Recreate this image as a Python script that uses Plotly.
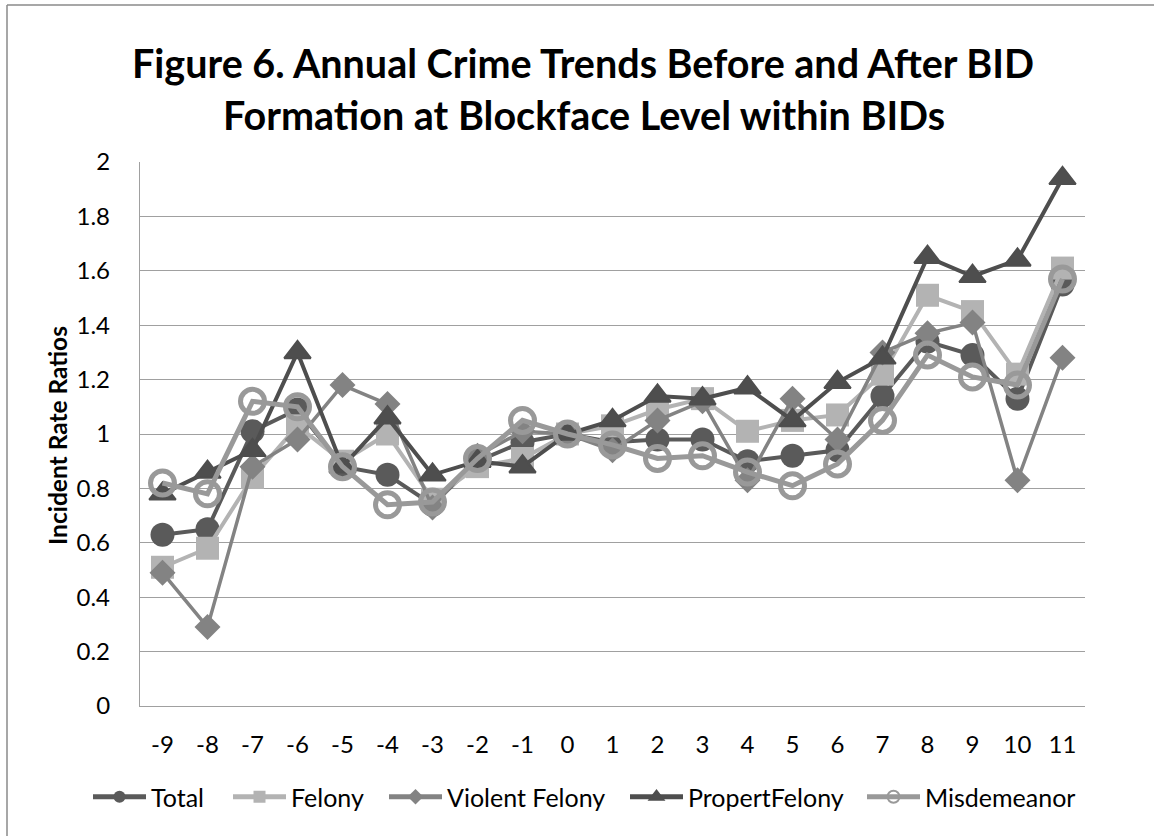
import plotly.graph_objects as go

# Years relative to BID formation
years = list(range(-9, 12))

# Incident rate ratios per crime category
total = [0.63, 0.65, 1.01, 1.09, 0.88, 0.85, 0.74, 0.90, 0.97, 1.00, 0.97,
         0.98, 0.98, 0.90, 0.92, 0.94, 1.14, 1.34, 1.29, 1.13, 1.55]
felony = [0.51, 0.58, 0.84, 1.03, 0.90, 1.00, 0.76, 0.88, 0.91, 1.00, 1.03,
          1.09, 1.13, 1.01, 1.05, 1.07, 1.22, 1.51, 1.45, 1.22, 1.61]
violent_felony = [0.49, 0.29, 0.88, 0.98, 1.18, 1.11, 0.73, 0.92, 1.01, 1.00, 0.94,
                  1.05, 1.12, 0.83, 1.13, 0.98, 1.30, 1.37, 1.41, 0.83, 1.28]
propert_felony = [0.78, 0.86, 0.94, 1.30, 0.88, 1.06, 0.85, 0.90, 0.88, 1.00, 1.05,
                  1.14, 1.13, 1.17, 1.05, 1.19, 1.28, 1.65, 1.58, 1.64, 1.94]
misdemeanor = [0.82, 0.78, 1.12, 1.10, 0.88, 0.74, 0.75, 0.91, 1.05, 1.00, 0.96,
               0.91, 0.92, 0.86, 0.81, 0.89, 1.05, 1.29, 1.21, 1.18, 1.57]

y_ticks = [0, 0.2, 0.4, 0.6, 0.8, 1, 1.2, 1.4, 1.6, 1.8, 2]
y_tick_text = ["0", "0.2", "0.4", "0.6", "0.8", "1", "1.2", "1.4", "1.6", "1.8", "2"]

W, H = 1154, 836
L, R, T, B = 140, 69, 162, 130
PW, PH = W - L - R, H - T - B


def px_x(x):
    return (x - L) / PW


def px_y(y):
    return (H - B - y) / PH


FONT = "Lato"

fig = go.Figure()

# name, values, marker, line colour, line width, legend id, legend left edge (px)
series = [
    ("Total", total, dict(symbol="circle", size=24, color="#5a5a5a"),
     "#5a5a5a", 4, "legend", 88),
    ("Felony", felony, dict(symbol="square", size=23, color="#b3b3b3"),
     "#b3b3b3", 4, "legend2", 228),
    ("Violent Felony", violent_felony, dict(symbol="diamond", size=20, color="#838383"),
     "#838383", 3.5, "legend3", 384),
    ("PropertFelony", propert_felony,
     dict(symbol="triangle-up", size=23, color="#4e4e4e", line=dict(color="#4e4e4e", width=2)),
     "#4e4e4e", 4, "legend4", 625),
    ("Misdemeanor", misdemeanor,
     dict(symbol="circle-open", size=24, color="#999999", line=dict(color="#999999", width=5)),
     "#999999", 5, "legend5", 862),
]

legend_layouts = {}
for name, vals, marker, lcolor, lw, leg, left in series:
    fig.add_trace(go.Scatter(
        x=years, y=vals, name=name, mode="lines+markers",
        line=dict(color=lcolor, width=lw),
        marker=marker, legend=leg,
    ))
    legend_layouts[leg] = dict(
        orientation="h", x=px_x(left), xanchor="left",
        y=px_y(797), yanchor="middle",
        font=dict(family=FONT, size=25, color="black"),
        itemwidth=53, itemsizing="constant",
        bgcolor="rgba(0,0,0,0)",
    )

fig.update_layout(
    width=W, height=H,
    margin=dict(l=L, r=R, t=T, b=B, autoexpand=False),
    paper_bgcolor="white", plot_bgcolor="white",
    font=dict(family=FONT, size=24, color="black"),
    showlegend=True,
    xaxis=dict(
        range=[-9.5, 11.5], tickmode="array", tickvals=years,
        ticktext=[str(v) for v in years],
        showgrid=False, zeroline=False,
        showline=True, linecolor="#a0a0a0", linewidth=1.3,
        ticks="", ticklabelstandoff=17,
        tickfont=dict(family=FONT, size=24, color="black"),
        fixedrange=True,
    ),
    yaxis=dict(
        range=[0, 2], tickmode="array", tickvals=y_ticks, ticktext=y_tick_text,
        showgrid=True, gridcolor="#a0a0a0", gridwidth=1.3,
        zeroline=False, showline=True, linecolor="#a0a0a0", linewidth=1.3,
        ticks="", ticklabelstandoff=24,
        tickfont=dict(family=FONT, size=24, color="black"),
        fixedrange=True,
    ),
    annotations=[
        dict(text="<b>Figure 6. Annual Crime Trends Before and After BID</b>",
             xref="paper", yref="paper", x=px_x(583), y=px_y(62),
             xanchor="center", yanchor="middle", showarrow=False,
             font=dict(family=FONT, size=39.5, color="black")),
        dict(text="<b>Formation at Blockface Level within BIDs</b>",
             xref="paper", yref="paper", x=px_x(584), y=px_y(115),
             xanchor="center", yanchor="middle", showarrow=False,
             font=dict(family=FONT, size=39.5, color="black")),
        dict(text="<b>Incident Rate Ratios</b>",
             xref="paper", yref="paper", x=px_x(57), y=px_y(436),
             xanchor="center", yanchor="middle", textangle=-90, showarrow=False,
             font=dict(family=FONT, size=24.5, color="black")),
    ],
    shapes=[
        dict(type="line", xref="paper", yref="paper",
             x0=px_x(7), x1=px_x(W + 5), y0=px_y(5), y1=px_y(5),
             line=dict(color="#8a8a8a", width=1.5)),
        dict(type="line", xref="paper", yref="paper",
             x0=px_x(7), x1=px_x(7), y0=px_y(5), y1=px_y(H + 5),
             line=dict(color="#8a8a8a", width=1.5)),
    ],
    **legend_layouts,
)

fig.write_html("out.html", config={"displayModeBar": False})
